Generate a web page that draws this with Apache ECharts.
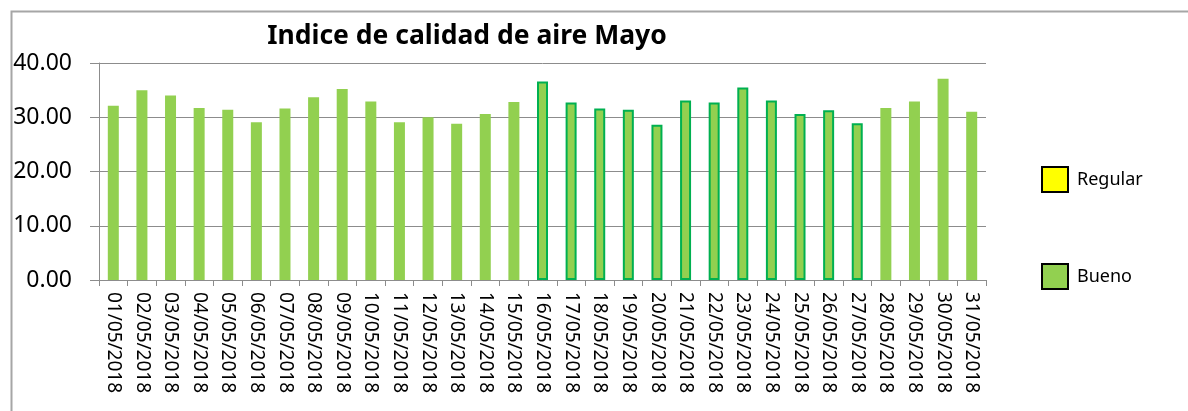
<!DOCTYPE html>
<html>
<head>
<meta charset="utf-8">
<script src="https://cdn.jsdelivr.net/npm/echarts@6/dist/echarts.min.js"></script>
<style>
html,body{margin:0;padding:0;background:#fff;}
#chart{width:1188px;height:411px;}
</style>
</head>
<body>
<div id="chart"></div>
<script>
const titleText = 'Indice de calidad de aire Mayo';
const categories = ['01/05/2018','02/05/2018','03/05/2018','04/05/2018','05/05/2018','06/05/2018','07/05/2018','08/05/2018','09/05/2018','10/05/2018','11/05/2018','12/05/2018','13/05/2018','14/05/2018','15/05/2018','16/05/2018','17/05/2018','18/05/2018','19/05/2018','20/05/2018','21/05/2018','22/05/2018','23/05/2018','24/05/2018','25/05/2018','26/05/2018','27/05/2018','28/05/2018','29/05/2018','30/05/2018','31/05/2018'];
const buenoValues = [32.1,35.0,34.0,31.7,31.4,29.1,31.6,33.7,35.2,32.9,29.1,30.0,28.8,30.6,32.8,36.6,32.7,31.6,31.4,28.6,33.1,32.7,35.5,33.1,30.6,31.3,28.9,31.7,32.9,37.1,31.0];
const regularValues = [];
const seriesNames = ['Regular','Bueno'];
const yTicks = [0,10,20,30,40];

const FONT = '"Noto Sans", sans-serif';
const GRID = '#8c8c8c';

const chart = echarts.init(document.getElementById('chart'), null, {renderer:'canvas'});

const buenoData = buenoValues.map((v, i) => {
  if (i >= 15 && i <= 26) {
    return {value: v, itemStyle: {borderColor: '#00B050', borderWidth: 2}};
  }
  return v;
});

chart.setOption({
  animation: false,
  backgroundColor: '#fff',
  graphic: [{
    type: 'rect',
    left: 9, top: 9,
    shape: {width: 1178, height: 420},
    style: {fill: 'none', stroke: '#a6a6a6', lineWidth: 2},
    silent: true, z: -1
  }],
  title: {
    text: titleText,
    left: 462, top: 18,
    textAlign: 'center',
    textStyle: {fontFamily: FONT, fontWeight: 'bold', fontSize: 26.5, color: '#000'}
  },
  legend: {
    orient: 'vertical',
    left: 1036, top: 161,
    itemWidth: 26, itemHeight: 25, itemGap: 70,
    icon: 'rect',
    data: seriesNames,
    itemStyle: {borderColor: '#000', borderWidth: 2},
    textStyle: {fontFamily: FONT, fontSize: 18, color: '#000', padding: [0,0,0,4]}
  },
  grid: {left: 99, right: 202, top: 63, bottom: 131},
  xAxis: {
    type: 'category',
    data: categories,
    axisLine: {lineStyle: {color: GRID, width: 1}},
    axisTick: {show: true, interval: 0, length: 6, lineStyle: {color: GRID}},
    axisLabel: {interval: 0, rotate: -90, margin: 12, fontFamily: FONT, fontSize: 19, color: '#000'}
  },
  yAxis: {
    type: 'value',
    min: yTicks[0], max: yTicks[yTicks.length-1], interval: 10,
    axisLine: {show: true, lineStyle: {color: GRID, width: 1}},
    axisTick: {show: true, length: 9, lineStyle: {color: GRID}},
    splitLine: {show: true, lineStyle: {color: GRID, width: 1}},
    axisLabel: {margin: 27, fontFamily: FONT, fontSize: 23, color: '#000', formatter: v => v.toFixed(2)}
  },
  series: [
    {name: seriesNames[0], type: 'bar', stack: 's', data: regularValues, itemStyle: {color: '#FFFF00'}, barWidth: 11},
    {name: seriesNames[1], type: 'bar', stack: 's', data: buenoData, itemStyle: {color: '#92D050'}, barWidth: 11}
  ]
});
</script>
</body>
</html>
